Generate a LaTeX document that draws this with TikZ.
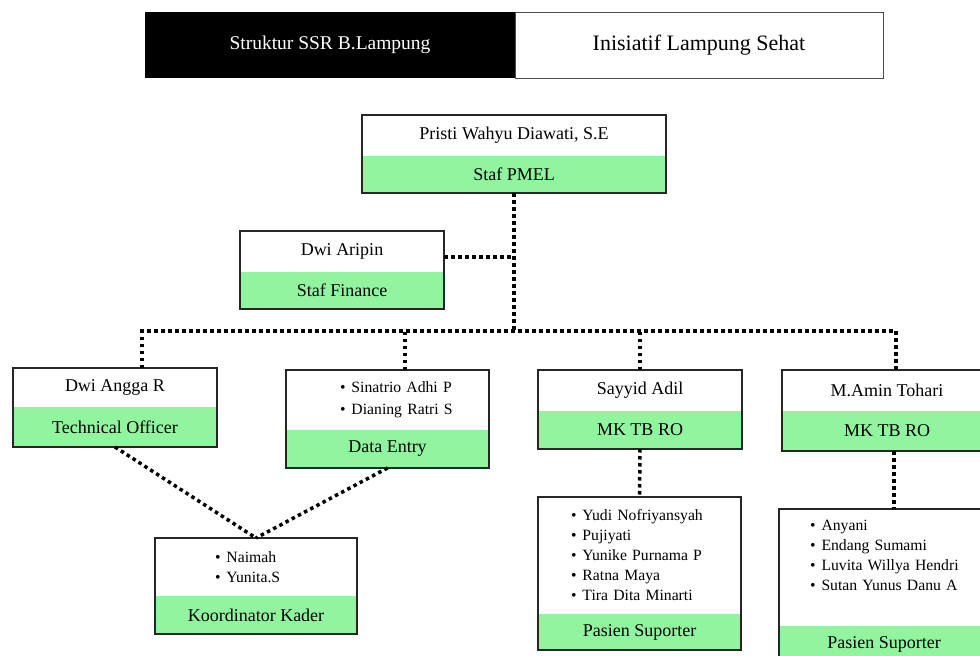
\documentclass[tikz,border=0pt]{standalone}
\usepackage{fontspec}
\setmainfont{Liberation Serif}
\usepackage{tikz}
\usetikzlibrary{
  positioning,  % 节点相对定位
  calc          % 坐标计算
}
\definecolor{hijau}{RGB}{144,245,158}
\newcommand{\butir}[2]{\hspace*{#1}\textbullet\hspace{6pt}#2}

\begin{document}
\begin{tikzpicture}[x=1pt, y=-1pt,
  bagian/.style={outer sep=0pt, inner sep=2pt, font=\fontsize{18}{21}\selectfont},
  nama/.style={bagian, fill=white, anchor=north west},
  peran/.style={bagian, fill=hijau},
  daftar/.style={nama, inner xsep=0pt, text width=#1, align=left,
    font=\fontsize{15.7}{20}\selectfont},
  garis/.style={line width=1.5pt, black!85},
  titik/.style={line width=3.5pt, dash pattern=on 3.5pt off 3.5pt}
]
  \useasboundingbox (0,0) rectangle (980,656);

  % 标题栏
  \node[anchor=north west, fill=black, text=white, minimum width=370,
    minimum height=66, outer sep=0pt, font=\fontsize{19.5}{22}\selectfont]
    (judul) at (145,12) {Struktur SSR B.Lampung};
  \node[right=0pt of judul, draw=black!70, line width=1pt, fill=white,
    minimum width=368, minimum height=66, outer sep=0pt,
    font=\fontsize{22}{25}\selectfont] (inisiatif) {Inisiatif Lampung Sehat};

  % Staf PMEL
  \node[nama, minimum width=304, minimum height=41] (pmelnama) at (362,115)
    {Pristi Wahyu Diawati, S.E};
  \node[peran, minimum width=304, minimum height=37, below=0pt of pmelnama]
    (pmelperan) {Staf PMEL};
  \draw[garis] (pmelnama.north west) rectangle (pmelperan.south east);

  % Staf Finance
  \node[nama, minimum width=204, minimum height=41] (finnama) at (240,231)
    {Dwi Aripin};
  \node[peran, minimum width=204, minimum height=37, below=0pt of finnama]
    (finperan) {Staf Finance};
  \draw[garis] (finnama.north west) rectangle (finperan.south east);

  % Technical Officer
  \node[nama, minimum width=204, minimum height=39] (tonama) at (13,368)
    {Dwi Angga R};
  \node[peran, minimum width=204, minimum height=40, below=0pt of tonama]
    (toperan) {Technical Officer};
  \draw[garis] (tonama.north west) rectangle (toperan.south east);

  % Data Entry
  \node[daftar=203, minimum height=60] (denama) at (286,370)
    {\butir{54pt}{Sinatrio Adhi P}\\[2pt]\butir{54pt}{Dianing Ratri S}};
  \node[peran, minimum width=203, minimum height=38, below=0pt of denama]
    (deperan) {Data Entry};
  \draw[garis] (denama.north west) rectangle (deperan.south east);

  % MK TB RO (Sayyid)
  \node[nama, minimum width=204, minimum height=41] (sayyidnama) at (538,370)
    {Sayyid Adil};
  \node[peran, minimum width=204, minimum height=38, below=0pt of sayyidnama]
    (sayyidperan) {MK TB RO};
  \draw[garis] (sayyidnama.north west) rectangle (sayyidperan.south east);

  % MK TB RO (Amin)
  \node[nama, minimum width=210, minimum height=41] (aminnama) at (782,370)
    {M.Amin Tohari};
  \node[peran, minimum width=210, minimum height=40, below=0pt of aminnama]
    (aminperan) {MK TB RO};
  \draw[garis] (aminnama.north west) rectangle (aminperan.south east);

  % Koordinator Kader
  \node[daftar=202, minimum height=58] (kknama) at (155,538)
    {\butir{60pt}{Naimah}\\\butir{60pt}{Yunita.S}};
  \node[peran, minimum width=202, minimum height=38, below=0pt of kknama]
    (kkperan) {Koordinator Kader};
  \draw[garis] (kknama.north west) rectangle (kkperan.south east);

  % Pasien Suporter (Sayyid)
  \node[daftar=203, minimum height=117] (sayyidps) at (538,497)
    {\butir{33pt}{Yudi Nofriyansyah}\\\butir{33pt}{Pujiyati}\\
     \butir{33pt}{Yunike Purnama P}\\\butir{33pt}{Ratna Maya}\\
     \butir{33pt}{Tira Dita Minarti}};
  \node[peran, minimum width=203, minimum height=36, below=0pt of sayyidps]
    (sayyidpsperan) {Pasien Suporter};
  \draw[garis] (sayyidps.north west) rectangle (sayyidpsperan.south east);

  % Pasien Suporter (Amin)
  \node[daftar=210, minimum height=117] (aminps) at (779,509)
    {\butir{31pt}{Anyani}\\\butir{31pt}{Endang Sumami}\\
     \butir{31pt}{Luvita Willya Hendri}\\\butir{31pt}{Sutan Yunus Danu A}\\[4pt]\mbox{}};
  \node[peran, minimum width=210, minimum height=36, below=0pt of aminps]
    (aminpsperan) {Pasien Suporter};
  \draw[garis] (aminps.north west) rectangle (aminpsperan.south east);

  % 虚线连线
  \coordinate (cabang) at (514,331);
  \draw[titik] (pmelperan.south) -- (cabang);
  \draw[titik] ([yshift=-5.5pt]finnama.east) -- ([yshift=-5.5pt]finnama.east -| cabang);
  \draw[titik] ([xshift=27pt]tonama.north) |- (cabang) -| ([xshift=9pt]aminnama.north);
  \draw[titik] ([xshift=17.5pt]denama.north) -- ([xshift=17.5pt]denama.north |- cabang);
  \draw[titik] (sayyidnama.north) -- (sayyidnama.north |- cabang);
  \draw[titik] (sayyidperan.south) -- (sayyidps.north);
  \draw[titik] ([xshift=7pt]aminperan.south) -- ([xshift=7pt]aminperan.south |- aminps.north);
  \draw[titik] (toperan.south) -- (kknama.north);
  \draw[titik] (deperan.south) -- (kknama.north);
\end{tikzpicture}
\end{document}
